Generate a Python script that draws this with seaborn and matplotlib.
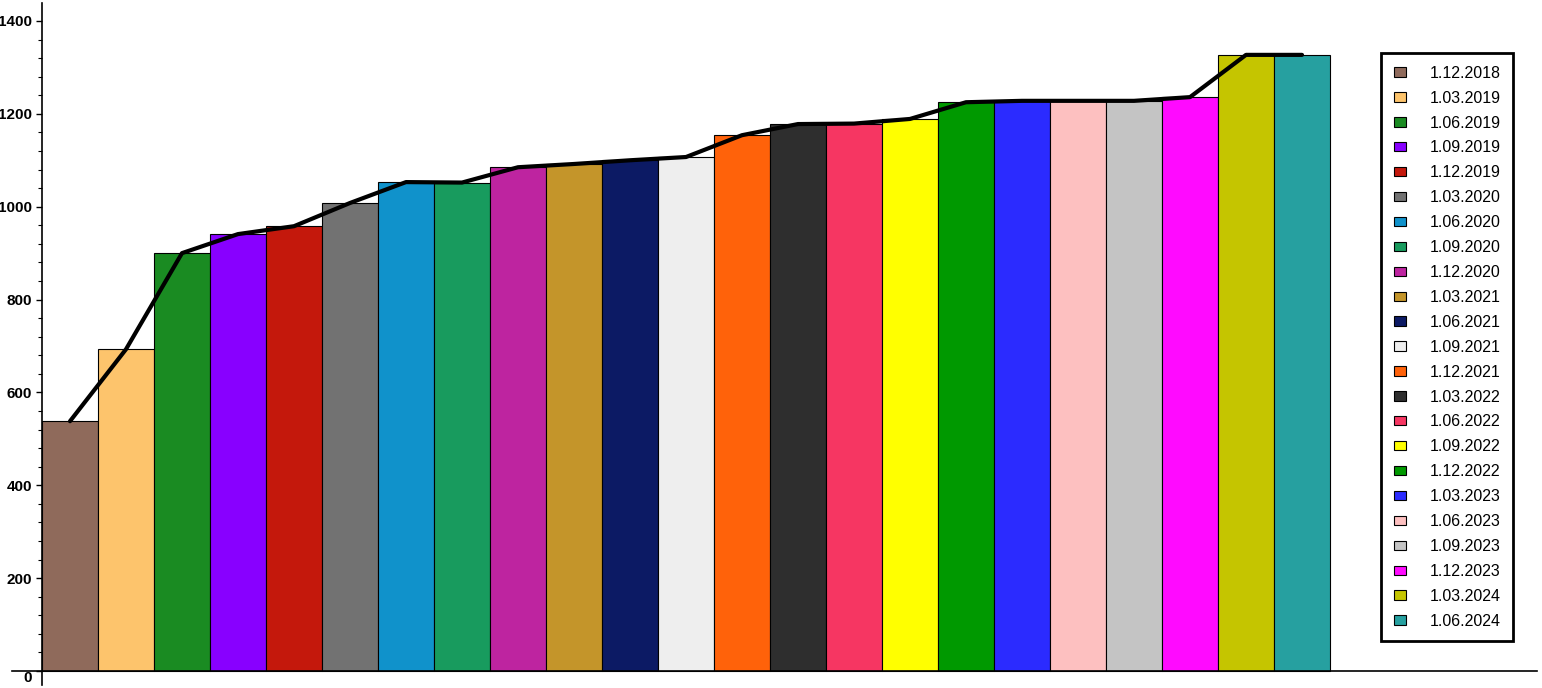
import matplotlib
matplotlib.use("Agg")
import matplotlib.pyplot as plt
import seaborn as sns
import pandas as pd
from matplotlib.ticker import MultipleLocator
from matplotlib.patches import Patch

dates = ["1.12.2018", "1.03.2019", "1.06.2019", "1.09.2019", "1.12.2019",
         "1.03.2020", "1.06.2020", "1.09.2020", "1.12.2020", "1.03.2021",
         "1.06.2021", "1.09.2021", "1.12.2021", "1.03.2022", "1.06.2022",
         "1.09.2022", "1.12.2022", "1.03.2023", "1.06.2023", "1.09.2023",
         "1.12.2023", "1.03.2024", "1.06.2024"]
values = [538, 693, 900, 941, 958, 1008, 1053, 1052, 1085, 1092, 1100, 1107,
          1154, 1178, 1179, 1189, 1225, 1228, 1228, 1228, 1236, 1327, 1327]
colors = ["#8f6a5b", "#fdc46c", "#1a8b22", "#8800ff", "#c4180c", "#727272",
          "#1092cb", "#189b5e", "#be24a0", "#c4952a", "#0c1a64", "#eeeeee",
          "#ff620a", "#2e2e2e", "#f63662", "#ffff00", "#009900", "#2b2bff",
          "#fdc0c0", "#c4c4c4", "#ff0aff", "#c5c500", "#26a0a0"]
y_ticks = [0, 200, 400, 600, 800, 1000, 1200, 1400]

df = pd.DataFrame({"date": dates, "value": values})

sns.set_style("white")
plt.rcParams["font.family"] = ["Liberation Sans", "DejaVu Sans"]
plt.rcParams["text.color"] = "black"
plt.rcParams["ytick.color"] = "black"
plt.rcParams["ytick.labelcolor"] = "black"

fig = plt.figure(figsize=(15.42, 6.88), dpi=100)
ax = fig.add_axes([12 / 1542, 3 / 688, (1537 - 12) / 1542, (685 - 3) / 688])

sns.barplot(data=df, x="date", y="value", hue="date", palette=colors,
            width=1.0, edgecolor="black", linewidth=0.8, legend=False,
            dodge=False, ax=ax, saturation=1)
sns.lineplot(x=list(range(len(values))), y=values, color="black",
             linewidth=3, ax=ax)

ax.set_xlim(-0.5 - 30 / 56, -0.5 + (1537 - 42) / 56)
ax.set_ylim(-(685 - 671) / 0.4643, (671 - 3) / 0.4643)

for s in ["top", "right"]:
    ax.spines[s].set_visible(False)
ax.spines["left"].set_position(("data", -0.5))
ax.spines["bottom"].set_position(("data", 0))
for s in ["left", "bottom"]:
    ax.spines[s].set_color("black")
    ax.spines[s].set_linewidth(1.2)

ax.set_xticks([])
ax.set_xlabel("")
ax.set_ylabel("")
ax.set_yticks(y_ticks)
ax.set_yticklabels([str(t) for t in y_ticks], fontweight="bold", fontsize=11,
                   color="black")
ax.yaxis.set_minor_locator(MultipleLocator(40))
ax.tick_params(axis="y", which="major", direction="out", length=4, width=1,
               left=True, pad=3, colors="black")
ax.tick_params(axis="y", which="minor", direction="out", length=3, width=0.8,
               left=True, colors="black")
lbls = ax.get_yticklabels()
lbls[0].set_va("top")

handles = [Patch(facecolor=c, edgecolor="black", linewidth=0.8, label=d)
           for c, d in zip(colors, dates)]
leg = fig.legend(handles=handles, loc="upper left",
                 bbox_to_anchor=(1381 / 1542, 1 - 53 / 688),
                 frameon=True, fancybox=False, fontsize=11.5,
                 handlelength=0.75, handleheight=0.52, handletextpad=1.5,
                 labelspacing=0.62, borderpad=0.8, borderaxespad=0,
                 labelcolor="black")
leg.get_frame().set_edgecolor("black")
leg.get_frame().set_linewidth(2)
leg.get_frame().set_alpha(1)

fig.savefig("out.png", dpi=100)
